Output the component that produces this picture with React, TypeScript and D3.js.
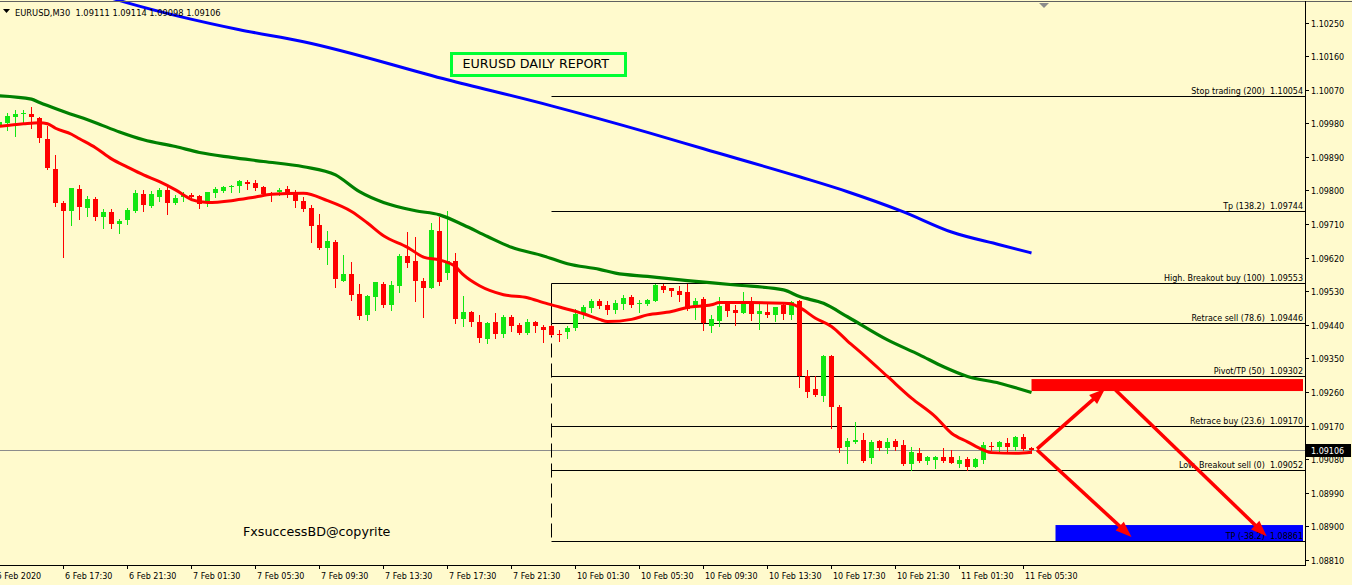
import React from "react";
import * as d3 from "d3";

const W = 1352;
const H = 585;

const symbolHeader = "EURUSD,M30  1.09111 1.09114 1.09098 1.09106";
const reportTitle = "EURUSD DAILY REPORT";
const copyrightText = "FxsuccessBD@copyrite";
const lastPrice = 1.09106;

const opens = [1.09974,1.09983,1.09997,1.10006,1.10007,1.09995,1.09939,1.09858,1.09767,1.09745,1.09805,1.09755,1.09779,1.09730,1.09743,1.09711,1.09721,1.09747,1.09792,1.09760,1.09785,1.09803,1.09769,1.09783,1.09788,1.09787,1.09772,1.09794,1.09801,1.09810,1.09812,1.09824,1.09821,1.09810,1.09794,1.09796,1.09805,1.09796,1.09773,1.09755,1.09709,1.09648,1.09664,1.09560,1.09578,1.09524,1.09468,1.09517,1.09551,1.09495,1.09546,1.09626,1.09613,1.09559,1.09540,1.09693,1.09581,1.09613,1.09456,1.09476,1.09448,1.09404,1.09448,1.09416,1.09462,1.09441,1.09420,1.09449,1.09435,1.09438,1.09417,1.09423,1.09434,1.09472,1.09487,1.09504,1.09495,1.09481,1.09497,1.09517,1.09497,1.09497,1.09505,1.09546,1.09540,1.09532,1.09529,1.09492,1.09510,1.09439,1.09452,1.09502,1.09481,1.09474,1.09502,1.09471,1.09477,1.09468,1.09495,1.09468,1.09505,1.09303,1.09269,1.09251,1.09358,1.09221,1.09115,1.09128,1.09133,1.09084,1.09130,1.09112,1.09130,1.09120,1.09069,1.09097,1.09077,1.09079,1.09088,1.09086,1.09069,1.09082,1.09061,1.09079,1.09117,1.09115,1.09124,1.09113,1.09142,1.09111];
const highs = [1.09996,1.10010,1.10017,1.10017,1.10025,1.09998,1.09974,1.09897,1.09774,1.09808,1.09816,1.09787,1.09783,1.09752,1.09752,1.09724,1.09755,1.09803,1.09803,1.09800,1.09808,1.09810,1.09790,1.09798,1.09794,1.09790,1.09798,1.09810,1.09812,1.09816,1.09830,1.09830,1.09830,1.09812,1.09796,1.09808,1.09814,1.09803,1.09783,1.09763,1.09739,1.09694,1.09669,1.09629,1.09610,1.09551,1.09522,1.09557,1.09557,1.09560,1.09631,1.09691,1.09676,1.09566,1.09715,1.09730,1.09745,1.09633,1.09519,1.09479,1.09468,1.09450,1.09474,1.09468,1.09468,1.09446,1.09457,1.09452,1.09441,1.09441,1.09428,1.09438,1.09483,1.09495,1.09510,1.09511,1.09504,1.09508,1.09520,1.09520,1.09508,1.09511,1.09551,1.09551,1.09541,1.09546,1.09551,1.09514,1.09515,1.09468,1.09515,1.09504,1.09495,1.09530,1.09515,1.09502,1.09502,1.09490,1.09501,1.09505,1.09508,1.09321,1.09303,1.09361,1.09361,1.09227,1.09138,1.09182,1.09151,1.09133,1.09133,1.09138,1.09136,1.09133,1.09113,1.09111,1.09090,1.09091,1.09111,1.09106,1.09090,1.09087,1.09084,1.09128,1.09128,1.09130,1.09138,1.09144,1.09148,1.09114];
const lows = [1.09964,1.09962,1.09948,1.09986,1.09968,1.09932,1.09860,1.09760,1.09623,1.09709,1.09724,1.09733,1.09722,1.09700,1.09700,1.09687,1.09712,1.09743,1.09745,1.09757,1.09772,1.09739,1.09765,1.09772,1.09778,1.09755,1.09760,1.09783,1.09796,1.09798,1.09798,1.09806,1.09803,1.09790,1.09772,1.09790,1.09785,1.09758,1.09747,1.09664,1.09644,1.09605,1.09544,1.09560,1.09508,1.09457,1.09455,1.09481,1.09490,1.09481,1.09530,1.09596,1.09506,1.09463,1.09540,1.09548,1.09564,1.09447,1.09439,1.09437,1.09396,1.09392,1.09405,1.09410,1.09426,1.09417,1.09417,1.09423,1.09396,1.09413,1.09399,1.09407,1.09428,1.09459,1.09477,1.09487,1.09471,1.09472,1.09485,1.09490,1.09477,1.09495,1.09505,1.09529,1.09519,1.09505,1.09481,1.09457,1.09428,1.09423,1.09437,1.09465,1.09441,1.09472,1.09455,1.09430,1.09463,1.09452,1.09457,1.09457,1.09276,1.09247,1.09251,1.09238,1.09166,1.09102,1.09071,1.09126,1.09075,1.09072,1.09106,1.09099,1.09106,1.09066,1.09053,1.09075,1.09069,1.09059,1.09075,1.09070,1.09061,1.09053,1.09060,1.09072,1.09106,1.09103,1.09103,1.09106,1.09106,1.09098];
const closes = [1.09985,1.10001,1.10007,1.10009,1.09997,1.09942,1.09861,1.09767,1.09745,1.09808,1.09757,1.09779,1.09730,1.09743,1.09711,1.09720,1.09749,1.09794,1.09763,1.09792,1.09803,1.09769,1.09782,1.09790,1.09785,1.09765,1.09798,1.09805,1.09810,1.09814,1.09827,1.09820,1.09809,1.09792,1.09790,1.09803,1.09790,1.09772,1.09752,1.09707,1.09647,1.09666,1.09564,1.09578,1.09520,1.09466,1.09519,1.09555,1.09495,1.09548,1.09626,1.09608,1.09560,1.09541,1.09696,1.09555,1.09613,1.09456,1.09476,1.09450,1.09407,1.09446,1.09416,1.09463,1.09439,1.09420,1.09448,1.09437,1.09428,1.09414,1.09413,1.09434,1.09470,1.09490,1.09505,1.09492,1.09481,1.09501,1.09514,1.09495,1.09501,1.09508,1.09548,1.09535,1.09532,1.09522,1.09484,1.09505,1.09446,1.09457,1.09493,1.09479,1.09474,1.09502,1.09471,1.09479,1.09468,1.09490,1.09471,1.09502,1.09304,1.09262,1.09254,1.09359,1.09220,1.09112,1.09130,1.09133,1.09077,1.09127,1.09112,1.09127,1.09115,1.09068,1.09100,1.09077,1.09087,1.09088,1.09077,1.09072,1.09079,1.09061,1.09081,1.09120,1.09113,1.09127,1.09115,1.09142,1.09108,1.09106];

// moving averages: [bar index, price]
const redMA: [number, number][] = [[0,1.09973],[3,1.09980],[5,1.09983],[6,1.09980],[7,1.09968],[9,1.09952],[10,1.09940],[12,1.09916],[14,1.09886],[16,1.09864],[18,1.09843],[20,1.09825],[22,1.09803],[24,1.09777],[26,1.09769],[29,1.09774],[32,1.09784],[34,1.09791],[38,1.09794],[41,1.09774],[44,1.09745],[46,1.09714],[48,1.09680],[51,1.09649],[53,1.09623],[55,1.09615],[57,1.09597],[58,1.09575],[60,1.09546],[63,1.09522],[66,1.09514],[68,1.09501],[70,1.09489],[73,1.09471],[75,1.09456],[76,1.09450],[79,1.09456],[81,1.09468],[84,1.09477],[86,1.09488],[89,1.09495],[90,1.09501],[94,1.09501],[98,1.09499],[99,1.09497],[100,1.09488],[102,1.09459],[104,1.09437],[106,1.09398],[108,1.09361],[111,1.09303],[114,1.09245],[117,1.09195],[119,1.09151],[121,1.09128],[123,1.09106],[124,1.09099],[127,1.09097],[129,1.09100]];
const greenMA: [number, number][] = [[0,1.10055],[4,1.10046],[5,1.10037],[8,1.10013],[12,1.09983],[15,1.09958],[18,1.09937],[22,1.09919],[25,1.09903],[29,1.09890],[33,1.09879],[38,1.09865],[42,1.09843],[45,1.09798],[48,1.09769],[52,1.09747],[55,1.09736],[58,1.09709],[61,1.09678],[64,1.09649],[68,1.09626],[71,1.09605],[75,1.09590],[77,1.09580],[81,1.09571],[86,1.09560],[92,1.09548],[98,1.09535],[100,1.09517],[103,1.09499],[106,1.09463],[111,1.09401],[115,1.09361],[118,1.09329],[121,1.09303],[125,1.09285],[129,1.09260]];
const blueMA: [number, number][] = [[13,1.10323],[16,1.10304],[30,1.10232],[38,1.10200],[56,1.10098],[69,1.10028],[81,1.09957],[88,1.09913],[100,1.09838],[106,1.09798],[113,1.09744],[119,1.09690],[125,1.09656],[129,1.09634]];

const fibNames = ["Stop trading (200)","Tp (138.2)","High. Breakout buy (100)","Retrace sell (78.6)","Pivot/TP (50)","Retrace buy (23.6)","Low. Breakout sell (0)","TP (-38.2)"];
const fibValues = [1.10054,1.09744,1.09553,1.09446,1.09302,1.09170,1.09052,1.08861];
const fibStartBar = 69;

const priceTicks = [1.10250,1.10160,1.10070,1.09980,1.09890,1.09800,1.09710,1.09620,1.09530,1.09440,1.09350,1.09260,1.09170,1.09080,1.08990,1.08900,1.08810];
const timeLabels = ["6 Feb 2020","6 Feb 17:30","6 Feb 21:30","7 Feb 01:30","7 Feb 05:30","7 Feb 09:30","7 Feb 13:30","7 Feb 17:30","7 Feb 21:30","10 Feb 01:30","10 Feb 05:30","10 Feb 09:30","10 Feb 13:30","10 Feb 17:30","10 Feb 21:30","11 Feb 01:30","11 Feb 05:30"];
const timeLabelBars = [0,8,16,24,32,40,48,56,64,72,80,88,96,104,112,120,128];

// zones: [fromBar, price top, price bottom]
const sellZone = { fromBar: 129, top: 1.09296, bottom: 1.09264 };
const tpZone = { fromBar: 132, top: 1.08905, bottom: 1.08860 };
// arrows: [bar, price] -> [bar, price]
const arrows: { from: [number, number]; to: [number, number] }[] = [
  { from: [129.7, 1.09109], to: [138.2, 1.09270] },
  { from: [139.5, 1.09267], to: [158.4, 1.08875] },
  { from: [129.7, 1.09106], to: [141.5, 1.08873] },
];

const BG = "#fffacd";
const BULL = "#12e612";
const BEAR = "#ff0000";
const FONT = "'DejaVu Sans', Verdana, sans-serif";

export default function App() {
  const plotRight = 1305;
  const plotBottom = 565;
  const x = d3.scaleLinear().domain([0, 1]).range([-0.5, 7.5]);
  const y = d3.scaleLinear().domain([1.0881, 1.1025]).range([560.5, 23]);
  const crisp = (v: number) => Math.round(v - 0.5) + 0.5;

  const maLine = d3
    .line<[number, number]>()
    .x((d) => x(d[0]))
    .y((d) => y(d[1]))
    .curve(d3.curveMonotoneX);

  const fibX0 = x(fibStartBar);

  const arrowEls = arrows.map((a, k) => {
    const x0 = x(a.from[0]), y0 = y(a.from[1]);
    const x1 = x(a.to[0]), y1 = y(a.to[1]);
    const dx = x1 - x0, dy = y1 - y0;
    const len = Math.hypot(dx, dy);
    const ux = dx / len, uy = dy / len;
    const hl = 16, hw = 6;
    const bx = x1 - ux * hl, by = y1 - uy * hl;
    const pts = [
      [x1, y1],
      [bx - uy * hw, by + ux * hw],
      [bx + uy * hw, by - ux * hw],
    ];
    return (
      <g key={"ar" + k}>
        <line x1={x0} y1={y0} x2={bx + ux * 2} y2={by + uy * 2} stroke={BEAR} strokeWidth={3.5} />
        <polygon points={pts.map((p) => p.join(",")).join(" ")} fill={BEAR} />
      </g>
    );
  });

  return (
    <div style={{ position: "fixed", left: 0, top: 0 }}>
      <svg width={W} height={H} style={{ display: "block" }} fontFamily={FONT}>
        <defs>
          <clipPath id="plot">
            <rect x={0} y={0} width={plotRight} height={plotBottom} />
          </clipPath>
        </defs>
        <rect x={0} y={0} width={W} height={H} fill={BG} />

        <g clipPath="url(#plot)">
          {/* current price line */}
          <line x1={0} x2={plotRight} y1={crisp(y(lastPrice))} y2={crisp(y(lastPrice))} stroke="#8c8c8c" strokeWidth={1} />

          {/* zones */}
          <rect x={x(sellZone.fromBar)} y={y(sellZone.top)} width={plotRight - 2 - x(sellZone.fromBar)} height={y(sellZone.bottom) - y(sellZone.top)} fill="#ff0000" />
          <rect x={x(tpZone.fromBar)} y={y(tpZone.top)} width={plotRight - 2 - x(tpZone.fromBar)} height={y(tpZone.bottom) - y(tpZone.top)} fill="#0000ff" />

          {/* fibonacci */}
          {fibValues.map((v, k) => (
            <g key={"fib" + k}>
              <line x1={fibX0} x2={plotRight} y1={crisp(y(v))} y2={crisp(y(v))} stroke="#000" strokeWidth={1} />
              <text x={plotRight - 2} y={crisp(y(v)) - 2.5} fontSize={8} textAnchor="end" fill="#000" style={{ whiteSpace: "pre" }}>
                {fibNames[k] + "  " + v.toFixed(5)}
              </text>
            </g>
          ))}
          <line x1={fibX0} x2={fibX0} y1={crisp(y(fibValues[2]))} y2={crisp(y(fibValues[3]))} stroke="#000" strokeWidth={1} />
          <line x1={fibX0} x2={fibX0} y1={crisp(y(fibValues[3]))} y2={crisp(y(fibValues[7]))} stroke="#000" strokeWidth={1} strokeDasharray="14,6" />

          {/* candles */}
          {opens.map((o, i) => {
            const c = closes[i];
            const bull = c >= o;
            const col = bull ? BULL : BEAR;
            const cx = x(i);
            const yt = Math.round(y(Math.max(o, c)));
            const yb = Math.round(y(Math.min(o, c)));
            return (
              <g key={"c" + i}>
                <line x1={cx} x2={cx} y1={Math.round(y(highs[i]))} y2={Math.round(y(lows[i])) + 1} stroke={col} strokeWidth={1} />
                <rect x={cx - 2.5} y={yt} width={5} height={Math.max(1, yb - yt)} fill={col} />
              </g>
            );
          })}

          {/* moving averages */}
          <path d={maLine(blueMA) || ""} fill="none" stroke="#0000ff" strokeWidth={3} />
          <path d={maLine(greenMA) || ""} fill="none" stroke="#008000" strokeWidth={3.2} />
          <path d={maLine(redMA) || ""} fill="none" stroke="#ff0000" strokeWidth={3} />

          {arrowEls}
        </g>

        {/* report title */}
        <rect x={451.5} y={53.5} width={174} height={22} fill="none" stroke="#00ff33" strokeWidth={3} />
        <text x={462.5} y={68} fontSize={12.7} fill="#000">{reportTitle}</text>
        <text x={243} y={536} fontSize={12.7} fill="#000">{copyrightText}</text>

        {/* header */}
        <polygon points="3,9 10,9 6.5,13" fill="#000" />
        <text x={15} y={15.5} fontSize={8.3} fill="#000" style={{ whiteSpace: "pre" }}>{symbolHeader}</text>
        <polygon points="1039,3 1049,3 1044,8" fill="#8c8c8c" />

        {/* frame */}
        <line x1={0} x2={W} y1={1.5} y2={1.5} stroke="#606060" strokeWidth={1} />
        <line x1={plotRight + 0.5} x2={plotRight + 0.5} y1={1} y2={plotBottom + 0.5} stroke="#000" strokeWidth={1} />
        <line x1={0} x2={plotRight + 1} y1={plotBottom + 0.5} y2={plotBottom + 0.5} stroke="#000" strokeWidth={1} />

        {/* price axis */}
        {priceTicks.map((t) => {
          const ty = crisp(y(t));
          return (
            <g key={"pt" + t}>
              <line x1={plotRight + 1} x2={plotRight + 4} y1={ty} y2={ty} stroke="#000" strokeWidth={1} />
              <text x={1311} y={ty + 3} fontSize={8} fill="#000">{t.toFixed(5)}</text>
            </g>
          );
        })}
        <rect x={1306} y={crisp(y(lastPrice)) - 6.5} width={45} height={13} fill="#000" />
        <text x={1311} y={crisp(y(lastPrice)) + 3} fontSize={8} fill="#fff">{lastPrice.toFixed(5)}</text>

        {/* time axis */}
        {timeLabels.map((lbl, k) => {
          const tx = crisp(x(timeLabelBars[k]));
          return (
            <g key={"tl" + k}>
              {k > 0 && <line x1={tx} x2={tx} y1={plotBottom} y2={plotBottom + 4} stroke="#000" strokeWidth={1} />}
              <text x={k === 0 ? tx - 3 : tx + 1.5} y={579} fontSize={8} fill="#000">{lbl}</text>
            </g>
          );
        })}
      </svg>
    </div>
  );
}
